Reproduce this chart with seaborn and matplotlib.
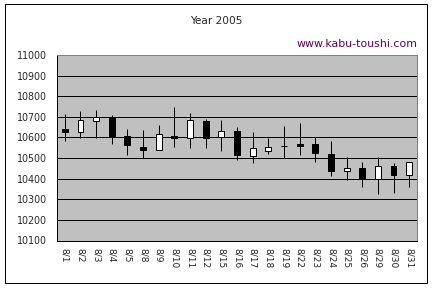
import matplotlib
matplotlib.use("Agg")
import matplotlib.pyplot as plt
import seaborn as sns
import pandas as pd
import numpy as np
from matplotlib.patches import Rectangle
from matplotlib.ticker import FixedLocator

dates = ["8/1", "8/2", "8/3", "8/4", "8/5", "8/8", "8/9", "8/10", "8/11", "8/12",
         "8/15", "8/16", "8/17", "8/18", "8/19", "8/22", "8/23", "8/24", "8/25",
         "8/26", "8/29", "8/30", "8/31"]
open_ = [10642, 10624, 10682, 10700, 10608, 10555, 10539, 10608, 10597, 10681,
         10600, 10632, 10508, 10532, 10559, 10569, 10569, 10521, 10435,
         10453, 10398, 10461, 10416]
high = [10714, 10729, 10734, 10710, 10642, 10637, 10661, 10748, 10719, 10690,
        10685, 10653, 10627, 10595, 10656, 10671, 10603, 10584, 10506,
        10482, 10506, 10477, 10482]
low = [10581, 10597, 10597, 10569, 10513, 10500, 10539, 10555, 10550, 10550,
       10532, 10489, 10474, 10518, 10500, 10513, 10479, 10411, 10392,
       10358, 10324, 10329, 10358]
close = [10624, 10685, 10698, 10608, 10561, 10537, 10616, 10597, 10685, 10597,
         10632, 10513, 10550, 10555, 10558, 10560, 10523, 10435, 10450,
         10398, 10461, 10416, 10481]
yticks = [10100, 10200, 10300, 10400, 10500, 10600, 10700, 10800, 10900, 11000]

df = pd.DataFrame({"date": dates, "open": open_, "high": high, "low": low, "close": close})
df["pos"] = np.arange(len(df))
df["bottom"] = df[["open", "close"]].min(axis=1)
df["height"] = (df["close"] - df["open"]).abs()
df["color"] = np.where(df["close"] >= df["open"], "white", "black")

sns.set_style("white")
plt.rcParams["font.family"] = ["DejaVu Sans"]

fig = plt.figure(figsize=(6, 4), dpi=72)
fig.patch.set_facecolor("white")
ax = fig.add_axes([57/432, 1 - 240.5/288, (417 - 57)/432, (240.5 - 55)/288])
ax.set_facecolor("#C0C0C0")

# grid lines
for v in yticks[1:-1]:
    ax.axhline(v, color="black", lw=1, zorder=1)

# wicks
ax.vlines(df["pos"], df["low"], df["high"], color="black", lw=1, zorder=2)
# bodies
ax.bar(df["pos"], df["height"].clip(lower=1), bottom=df["bottom"], width=0.38,
       color=df["color"], edgecolor="black", linewidth=1, zorder=3)

ax.set_xlim(-0.5, len(df) - 0.5)
ax.set_ylim(10100, 11000)
ax.set_yticks(yticks)
ax.set_yticklabels([str(v) for v in yticks], fontsize=9.5)
ax.tick_params(axis="y", length=0, pad=10)
ax.set_xticks(df["pos"])
ax.set_xticklabels(df["date"], rotation=270, fontsize=9, va="top", ha="center")
ax.tick_params(axis="x", which="major", length=0, pad=7.5)
ax.xaxis.set_minor_locator(FixedLocator(np.arange(-0.5, len(df), 1.0)))
ax.tick_params(axis="x", which="minor", direction="in", length=3, width=1, color="black")

for s in ["left", "bottom"]:
    ax.spines[s].set_color("black")
    ax.spines[s].set_linewidth(1)
for s in ["top", "right"]:
    ax.spines[s].set_color("#808080")
    ax.spines[s].set_linewidth(1)
    ax.spines[s].set_visible(True)

fig.text(216/432, 1 - 21/288, "Year 2005", ha="center", va="center", fontsize=10.5)
fig.text(418/432, 1 - 44/288, "www.kabu-toushi.com", ha="right", va="center",
         fontsize=11, color="#600060")

fig.patches.append(Rectangle((5/432, 5/288), 422/432, 279/288, transform=fig.transFigure,
                             fill=False, edgecolor="black", linewidth=1))

fig.savefig("out.png", dpi=72)
